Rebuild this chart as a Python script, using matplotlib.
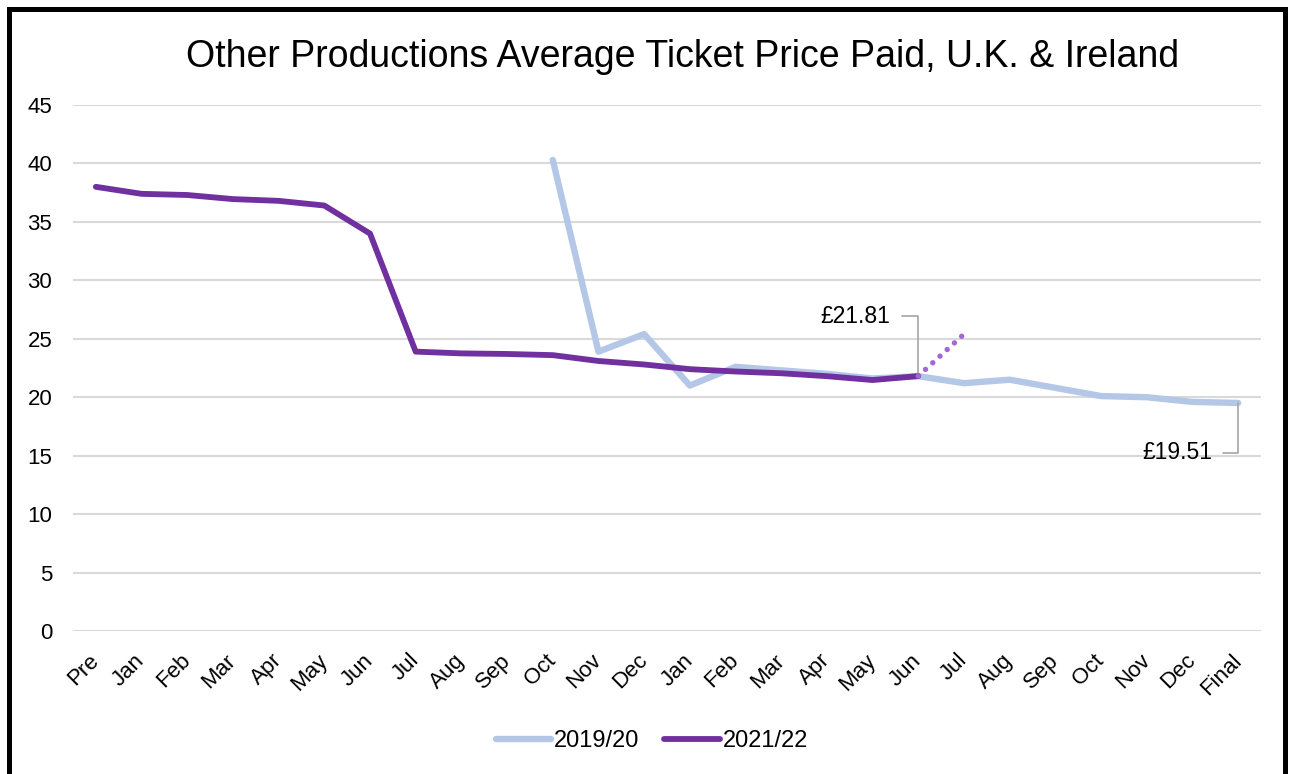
import matplotlib
matplotlib.use("Agg")
import matplotlib.pyplot as plt
from matplotlib.patches import Rectangle

plt.rcParams['font.family'] = ['Liberation Sans', 'DejaVu Sans']

categories = ["Pre", "Jan", "Feb", "Mar", "Apr", "May", "Jun", "Jul", "Aug", "Sep",
              "Oct", "Nov", "Dec", "Jan", "Feb", "Mar", "Apr", "May", "Jun", "Jul",
              "Aug", "Sep", "Oct", "Nov", "Dec", "Final"]

# 2019/20 starts at the 11th category (Oct)
s2019_start = 10
s2019 = [40.3, 23.9, 25.4, 21.0, 22.6, 22.3, 22.0, 21.6, 21.8, 21.2,
         21.5, 20.8, 20.1, 20.0, 19.6, 19.51]

s2021 = [38.0, 37.4, 37.3, 36.95, 36.8, 36.4, 34.0, 23.9, 23.75, 23.7,
         23.6, 23.1, 22.8, 22.4, 22.2, 22.05, 21.8, 21.47, 21.81]

# projected (dotted) continuation of 2021/22
proj_x = [18, 19]
proj_y = [21.81, 25.4]

yticks = [0, 5, 10, 15, 20, 25, 30, 35, 40, 45]

W, H = 1291, 774
fig = plt.figure(figsize=(W / 100, H / 100), dpi=100)
fig.patch.set_facecolor("white")

ax = fig.add_axes([73 / W, 1 - 631 / H, (1261 - 73) / W, (631 - 105) / H])

x2019 = list(range(s2019_start, s2019_start + len(s2019)))
x2021 = list(range(len(s2021)))

ax.plot(x2019, s2019, color="#b4c7e7", lw=4.6, solid_capstyle="round",
        solid_joinstyle="round", label="2019/20", zorder=3)
ax.plot(x2021, s2021, color="#7030a0", lw=4.2, solid_capstyle="round",
        solid_joinstyle="round", label="2021/22", zorder=4)
ax.plot(proj_x, proj_y, color="#a566d8", lw=3.9, linestyle=(0, (0.01, 1.8)),
        dash_capstyle="round", zorder=4)

ax.set_xlim(-0.5, len(categories) - 0.5)
ax.set_ylim(0, 45)
ax.set_yticks(yticks)
ax.set_xticks(range(len(categories)))
ax.set_xticklabels(categories, rotation=45, ha="right", va="center",
                   rotation_mode="anchor", fontsize=16)
ax.tick_params(axis="both", length=0)
ax.tick_params(axis="y", labelsize=16, pad=15)
ax.tick_params(axis="x", pad=19)
ax.grid(axis="y", color="#d9d9d9", lw=1.5)
ax.set_axisbelow(True)
for sp in ax.spines.values():
    sp.set_visible(False)

# data labels with leader lines
lc = "#a6a6a6"
ax.annotate("", xy=(18, s2021[-1]), xytext=(-16, 60), textcoords="offset pixels",
            arrowprops=dict(arrowstyle="-", color=lc, lw=1.2, shrinkA=0, shrinkB=0,
                            connectionstyle="angle,angleA=0,angleB=90,rad=0"))
ax.annotate("£21.81", xy=(18, s2021[-1]), xytext=(-28, 60), textcoords="offset pixels",
            ha="right", va="center", fontsize=16.5)
ax.annotate("", xy=(25, s2019[-1]), xytext=(-15, -50), textcoords="offset pixels",
            arrowprops=dict(arrowstyle="-", color=lc, lw=1.2, shrinkA=0, shrinkB=0,
                            connectionstyle="angle,angleA=0,angleB=90,rad=0"))
ax.annotate("£19.51", xy=(25, s2019[-1]), xytext=(-26, -50), textcoords="offset pixels",
            ha="right", va="center", fontsize=16.5)

fig.text(683 / W, 1 - 57 / H, "Other Productions Average Ticket Price Paid, U.K. & Ireland",
         ha="center", va="center", fontsize=27)

fig.legend(loc="center", bbox_to_anchor=(652 / W, 1 - 741 / H), ncol=2, frameon=False,
           fontsize=17, handlelength=2.35, handletextpad=0.13, columnspacing=1.05)

fig.patches.append(Rectangle((8.5 / W, -0.05), (1285 - 8.5) / W, 1.05 - 8.5 / H,
                             transform=fig.transFigure, fill=False, edgecolor="black",
                             lw=3.6, zorder=10))

fig.savefig("out.png", dpi=100, facecolor="white")
